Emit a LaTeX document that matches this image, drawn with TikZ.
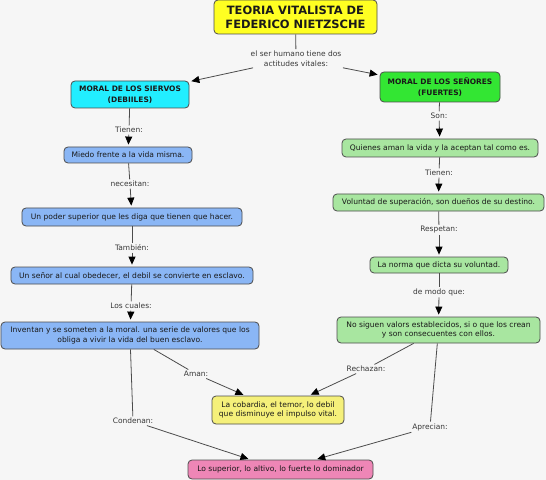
\documentclass[tikz,border=0pt]{standalone}
\usepackage{fontspec}
\setmainfont{DejaVu Sans}
\usetikzlibrary{arrows.meta}
\definecolor{bgc}{HTML}{F6F6F6}
\definecolor{titlec}{HTML}{FFFF22}
\definecolor{cyanc}{HTML}{22EEFF}
\definecolor{greenc}{HTML}{33E633}
\definecolor{bluec}{HTML}{8AB6F5}
\definecolor{lgreenc}{HTML}{A8E6A0}
\definecolor{lyellowc}{HTML}{F5F07A}
\definecolor{pinkc}{HTML}{EE86B6}
\begin{document}
\begin{tikzpicture}[x=1bp,y=-1bp,
  box/.style={draw=black!70, rounded corners=4bp, line width=0.8bp, inner sep=0pt,
    align=center, text=black!90, font=\fontsize{7.6}{9.5}\selectfont},
  lbl/.style={inner sep=1.5bp, align=center, text=black!78, font=\fontsize{7.5}{9.5}\selectfont},
  conn/.style={draw=black!70, line width=0.8bp},
  arr/.style={conn, -{Triangle[length=8bp,width=7bp,fill=black,color=black]}, shorten >=2bp}]
\fill[bgc] (0,0) rectangle (546,480);
\useasboundingbox (0,0) rectangle (546,480);
% nodes
\node[box, fill=titlec, minimum width=163bp, minimum height=34bp,
  font=\fontsize{11.5}{14}\selectfont\bfseries] (title) at (295.5,17) {TEORIA VITALISTA DE\\FEDERICO NIETZSCHE};
\node[lbl] (lab0) at (296,58.5) {el ser humano tiene dos\\actitudes vitales:};
\node[box, fill=cyanc, minimum width=118bp, minimum height=27bp,
  font=\fontsize{7.5}{10.5}\selectfont\bfseries] (siervos) at (130,94.5) {MORAL DE LOS SIERVOS\\(DEBIILES)};
\node[box, fill=greenc, minimum width=120bp, minimum height=30bp,
  font=\fontsize{7.5}{10.5}\selectfont\bfseries] (senores) at (440,87) {MORAL DE LOS SEÑORES\\(FUERTES)};
% left column
\node[lbl] (tienen1) at (129,130) {Tienen:};
\node[box, fill=bluec, minimum width=128bp, minimum height=16bp] (miedo) at (128,155) {Miedo frente a la vida misma.};
\node[lbl] (necesitan) at (130,184) {necesitan:};
\node[box, fill=bluec, minimum width=220bp, minimum height=18bp] (poder) at (132,217) {Un poder superior que les diga que tienen que hacer.};
\node[lbl] (tambien) at (132,248) {También:};
\node[box, fill=bluec, minimum width=242bp, minimum height=17bp] (senor) at (132,275.5) {Un señor al cual obedecer, el debil se convierte en esclavo.};
\node[lbl] (loscuales) at (131,306) {Los cuales:};
\node[box, fill=bluec, minimum width=258bp, minimum height=27bp] (inventan) at (130,335.5) {Inventan y se someten a la moral. una serie de valores que los\\obliga a vivir la vida del buen esclavo.};
% right column
\node[lbl] (son) at (439,116) {Son:};
\node[box, fill=lgreenc, minimum width=196bp, minimum height=18bp] (quienes) at (440,148) {Quienes aman la vida y la aceptan tal como es.};
\node[lbl] (tienen2) at (439,173) {Tienen:};
\node[box, fill=lgreenc, minimum width=211bp, minimum height=17bp] (voluntad) at (438.5,202.5) {Voluntad de superación, son dueños de su destino.};
\node[lbl] (respetan) at (439,230) {Respetan:};
\node[box, fill=lgreenc, minimum width=138bp, minimum height=16bp] (norma) at (439,265) {La norma que dicta su voluntad.};
\node[lbl] (demodo) at (439,292) {de modo que:};
\node[box, fill=lgreenc, minimum width=203bp, minimum height=26bp] (nosiguen) at (438.5,330) {No siguen valors establecidos, si o que los crean\\y son consecuentes con ellos.};
% bottom
\node[lbl] (aman) at (196,374) {Aman:};
\node[lbl] (rechazan) at (366,369) {Rechazan:};
\node[lbl] (condenan) at (133,421) {Condenan:};
\node[lbl] (aprecian) at (430,427) {Aprecian:};
\node[box, fill=lyellowc, minimum width=132bp, minimum height=28bp] (cobardia) at (278,410) {La cobardia, el temor, lo debil\\que disminuye el impulso vital.};
\node[box, fill=pinkc, minimum width=185bp, minimum height=19bp] (superior) at (280.5,469.5) {Lo superior, lo altivo, lo fuerte lo dominador};
% connectors
\draw[conn] (title) -- (lab0);
\draw[arr] (lab0) -- (siervos);
\draw[arr] (lab0) -- (senores);
\draw[conn] (siervos) -- (tienen1);
\draw[arr] (tienen1) -- (miedo);
\draw[conn] (miedo) -- (necesitan);
\draw[arr] (necesitan) -- (poder);
\draw[conn] (poder) -- (tambien);
\draw[arr] (tambien) -- (senor);
\draw[conn] (senor) -- (loscuales);
\draw[arr] (loscuales) -- (inventan);
\draw[conn] (senores) -- (son);
\draw[arr] (son) -- (quienes);
\draw[conn] (quienes) -- (tienen2);
\draw[arr] (tienen2) -- (voluntad);
\draw[conn] (voluntad) -- (respetan);
\draw[arr] (respetan) -- (norma);
\draw[conn] (norma) -- (demodo);
\draw[arr] (demodo) -- (nosiguen);
\draw[conn] (inventan) -- (aman);
\draw[arr] (aman) -- (cobardia);
\draw[conn] (nosiguen) -- (rechazan);
\draw[arr] (rechazan) -- (cobardia);
\draw[conn] (inventan) -- (condenan);
\draw[arr] (condenan) -- (superior);
\draw[conn] (nosiguen) -- (aprecian);
\draw[arr] (aprecian) -- (superior);
\end{tikzpicture}
\end{document}
